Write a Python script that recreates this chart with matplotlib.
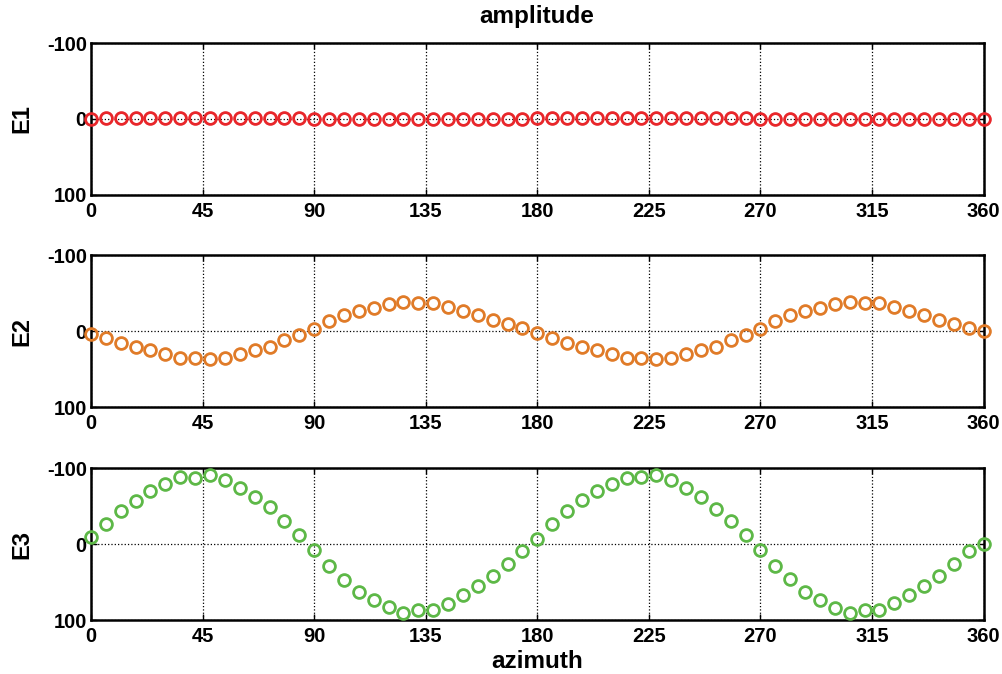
import numpy as np
import matplotlib.pyplot as plt

# azimuth sampling (deg)
azimuth = [0, 6, 12, 18, 24, 30, 36, 42, 48, 54, 60, 66, 72, 78, 84, 90,
           96, 102, 108, 114, 120, 126, 132, 138, 144, 150, 156, 162, 168, 174, 180,
           186, 192, 198, 204, 210, 216, 222, 228, 234, 240, 246, 252, 258, 264, 270,
           276, 282, 288, 294, 300, 306, 312, 318, 324, 330, 336, 342, 348, 354, 360]

E1 = [0, -1, -1, -1, -1, -1, -1, -1, -1, -1, -1, -1, -1, -1, -1, 0,
      0.5, 0.5, 0.5, 0.5, 0.5, 0.5, 0.5, 0.5, 0.5, 0.5, 0.5, 0.5, 0.5, 0.5, -1,
      -1, -1, -1, -1, -1, -1, -1, -1, -1, -1, -1, -1, -1, -1, 0,
      0.5, 0.5, 0.5, 0.5, 0.5, 0.5, 0.5, 0.5, 0.5, 0.5, 0.5, 0.5, 0.5, 0.5, 0]

E2 = [4.4, 9.3, 15.9, 21.1, 25.6, 30.8, 35.7, 35.7, 37.4, 35.7, 30.8, 25.6, 20.7, 11.9, 5.7, -2.6,
      -12.8, -20.7, -26.4, -30.8, -36.1, -37.9, -36.6, -36.6, -31.3, -26.0, -21.1, -14.1, -8.8, -4.0, 2.6,
      9.3, 15.9, 21.1, 25.6, 30.8, 35.7, 35.7, 37.4, 35.7, 30.8, 25.6, 20.7, 11.9, 5.7, -2.6,
      -12.8, -20.7, -26.4, -30.8, -36.1, -37.9, -36.6, -36.6, -31.3, -26.0, -21.1, -14.1, -8.8, -4.0, 0]

E3 = [-9.5, -26.8, -43.3, -56.3, -69.3, -79.2, -87.9, -87.4, -90.9, -84.0, -74.0, -62.3, -48.1, -29.9, -12.1, 7.8,
      29.4, 47.6, 62.8, 74.0, 83.5, 90.5, 87.0, 87.0, 78.4, 67.1, 55.8, 42.4, 26.0, 9.5, -6.9,
      -26.4, -43.3, -57.6, -69.3, -79.2, -87.4, -87.9, -90.9, -84.0, -74.0, -62.3, -45.9, -29.9, -11.7, 7.8,
      29.4, 46.3, 62.8, 74.0, 84.0, 90.5, 87.0, 87.0, 77.5, 67.1, 55.4, 42.4, 26.4, 9.5, 0]

series = [("E1", E1, "#e8262a"), ("E2", E2, "#e07b28"), ("E3", E3, "#5db847")]
xticks = [0, 45, 90, 135, 180, 225, 270, 315, 360]
yticks = [-100, 0, 100]

plt.rcParams['font.family'] = ['Liberation Sans', 'DejaVu Sans']
plt.rcParams['font.weight'] = 'bold'
plt.rcParams['axes.unicode_minus'] = False

fig = plt.figure(figsize=(10.03, 6.74), dpi=100)
bottoms = [0.7107, 0.3961, 0.0801]
axes = []
for (name, vals, col), b in zip(series, bottoms):
    ax = fig.add_axes([0.0907, b, 0.890, 0.2255])
    ax.plot(azimuth, vals, 'o', mfc='none', mec=col, mew=2, ms=8.5, clip_on=False, zorder=3)
    ax.set_xlim(0, 360)
    ax.set_ylim(100, -100)
    ax.set_xticks(xticks)
    ax.set_yticks(yticks)
    ax.grid(True, color='black', linestyle=':', linewidth=0.9)
    ax.tick_params(direction='in', top=True, right=True, length=4, width=1,
                   labelsize=14.5)
    ax.tick_params(axis='x', pad=5)
    ax.tick_params(axis='y', pad=3)
    for lab in ax.get_xticklabels() + ax.get_yticklabels():
        lab.set_fontweight('bold')
    for s in ax.spines.values():
        s.set_linewidth(1.8)
    ax.set_ylabel(name, fontsize=17, fontweight='bold')
    ax.yaxis.set_label_coords(-0.065, 0.5)
    axes.append(ax)

fig.text(0.5352, 1 - 17 / 674, 'amplitude', fontsize=17.5, fontweight='bold',
         ha='center', va='center')
fig.text(0.5352, 1 - 662 / 674, 'azimuth', fontsize=17.5, fontweight='bold',
         ha='center', va='center')

fig.savefig('out.png', dpi=100)
